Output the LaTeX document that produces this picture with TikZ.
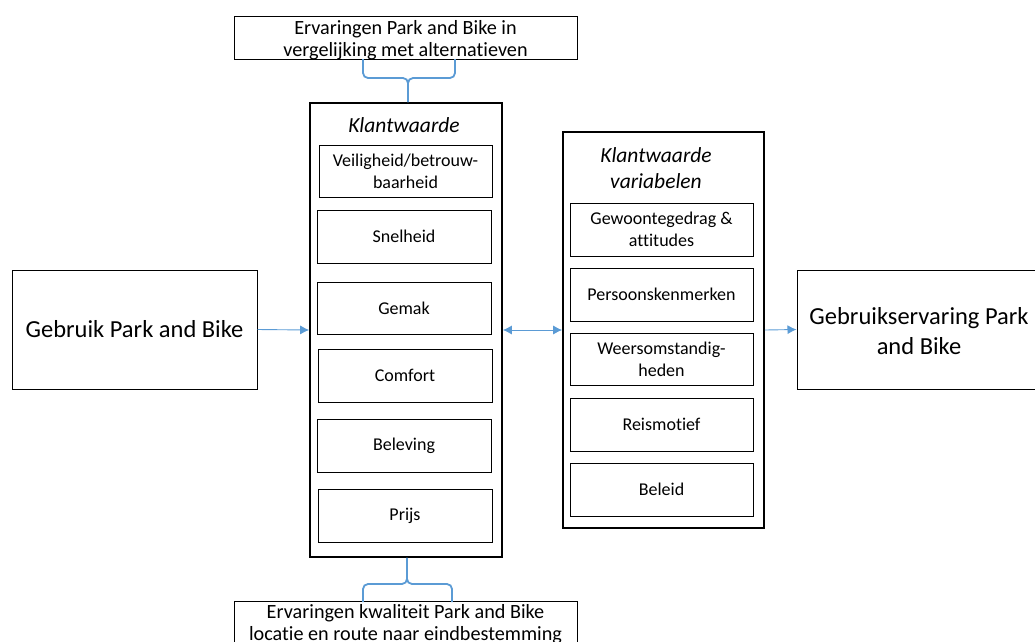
\documentclass[tikz,border=0pt]{standalone}
\usepackage{fontspec}
\setmainfont{Carlito}[Ligatures={TeX,NoCommon}]
\usetikzlibrary{arrows.meta}
\definecolor{linkblue}{HTML}{5B9BD5}
\tikzset{
  frame/.style={draw=black, line width=1.6pt, minimum width=#1},
  itembox/.style={draw=black, line width=1pt, minimum width=174pt, minimum height=53pt,
    align=center, font=\fontsize{18}{22}\selectfont, inner sep=2pt},
  bigbox/.style={draw=black, line width=1pt, align=center, inner sep=2pt},
  plaintext/.style={align=center, inner sep=0pt},
  link/.style={draw=linkblue, line width=0.9pt, >={Latex[length=9pt,width=9pt]}, ->},
  brace/.style={draw=linkblue, line width=1.8pt, rounded corners=5pt},
  titletext/.style={font=\fontsize{21.5}{26}\selectfont\itshape, align=center}
}
\begin{document}
\begin{tikzpicture}[x=1pt,y=-1pt]
\useasboundingbox (0,0) rectangle (1035,641);
\clip (0,0) rectangle (1035,641);

% context boxes above and below
\node[bigbox, minimum width=343pt, minimum height=43pt] (top) at (405.5,37.5) {};
\node[plaintext, font=\fontsize{20.2}{22}\selectfont] (toptext) at (405.5,40)
  {Ervaringen Park and Bike in\\vergelijking met alternatieven};
\node[bigbox, minimum width=343pt, minimum height=46pt, font=\fontsize{20.2}{22}\selectfont, anchor=north]
  (bottom) at (405.5,601) {Ervaringen kwaliteit Park and Bike\\locatie en route naar eindbestemming};

% customer value block
\node[frame=192pt, minimum height=454pt] (kw) at (406,330) {};
\node[titletext] (kwtitle) at (404,125) {Klantwaarde};
\node[itembox, minimum width=173pt, minimum height=52pt] (veil) at (405.5,171) {Veiligheid/betrouw-\\baarheid};
\node[itembox] (snel) at (404,236.5) {Snelheid};
\node[itembox, minimum height=52pt] (gemak) at (404,308) {Gemak};
\node[itembox] (comfort) at (405,375.5) {Comfort};
\node[itembox] (beleving) at (404,445.5) {Beleving};
\node[itembox] (prijs) at (405,515.5) {Prijs};

% variables block
\node[frame=201pt, minimum height=396pt] (kv) at (663.5,330) {};
\node[titletext] (kvtitle) at (656,168) {Klantwaarde\\variabelen};
\node[itembox, minimum width=183pt] (gewoonte) at (661.5,229.5) {Gewoontegedrag \&\\attitudes};
\node[itembox, minimum width=183pt] (persoon) at (661.5,294.5) {Persoonskenmerken};
\node[itembox, minimum width=183pt, minimum height=52pt] (weer) at (661.5,359) {Weersomstandig-\\heden};
\node[itembox, minimum width=183pt] (reis) at (661.5,424.5) {Reismotief};
\node[itembox, minimum width=183pt] (beleid) at (661.5,489.5) {Beleid};

% input and outcome
\node[bigbox, minimum width=245pt, minimum height=119pt, font=\fontsize{24.5}{30}\selectfont]
  (gebruik) at (134.5,329.5) {Gebruik Park and Bike};
\node[bigbox, minimum width=244pt, minimum height=119pt] (ervaring) at (919,329.5) {};
\node[plaintext, font=\fontsize{24.5}{30}\selectfont] (ervaringtext) at (919,331.5)
  {Gebruikservaring Park\\and Bike};

% connectors
\draw[link] (gebruik.east) -- (kw.west);
\draw[link, <->] (kw.east) -- (kv.west);
\draw[link] (kv.east) -- (ervaring.west);

% braces
\coordinate (tb) at (408,78);
\draw[brace] (363,59) |- (tb) -- (kw.north -| tb);
\draw[brace] (455,59) |- (tb) -- (kw.north -| tb);
\coordinate (bb) at (407,584);
\draw[brace] (363,602) |- (bb) -- (kw.south -| bb);
\draw[brace] (452,602) |- (bb) -- (kw.south -| bb);
\end{tikzpicture}
\end{document}
